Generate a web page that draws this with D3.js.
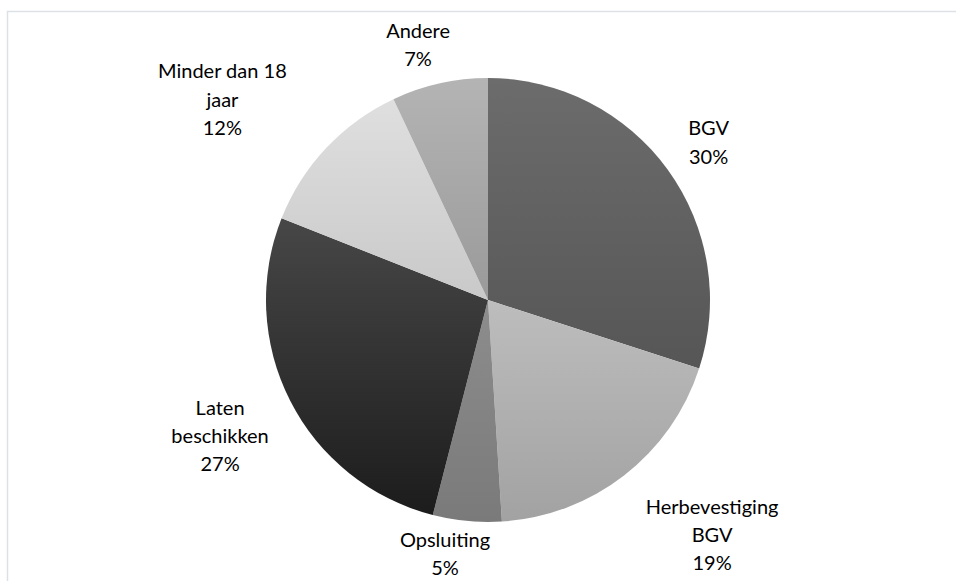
<!DOCTYPE html>
<html>
<head>
<meta charset="utf-8">
<script src="https://cdn.jsdelivr.net/npm/d3@7"></script>
<style>
    body { margin: 0; background: #fff; }
    svg text { font-family: Lato, "Open Sans", sans-serif; font-size: 20px; fill: #000; }
</style>
</head>
<body>
<div id="chart"></div>
<script>
var categories = ['BGV', 'Herbevestiging BGV', 'Opsluiting', 'Laten beschikken', 'Minder dan 18 jaar', 'Andere'];
var values = [30, 19, 5, 27, 12, 7];
// wrapped label lines as Excel shows them
var label_lines = [['BGV'], ['Herbevestiging', 'BGV'], ['Opsluiting'], ['Laten', 'beschikken'], ['Minder dan 18', 'jaar'], ['Andere']];
var colors_top = ['#6c6c6c', '#bdbdbd', '#8d8d8d', '#474747', '#dfdfdf', '#b4b4b4'];
var colors_bottom = ['#565656', '#a2a2a2', '#7a7a7a', '#1c1c1c', '#c9c9c9', '#9a9a9a'];

var width = 956, height = 581,
    cx = 488, cy = 300, radius = 222,
    line_h = 28.3, label_pad = 30;

var svg = d3.select('#chart').append('svg')
    .attr('width', width)
    .attr('height', height);

// chart area border (runs off right/bottom)
svg.append('rect')
    .attr('x', 7.5).attr('y', 11.5)
    .attr('width', width).attr('height', height)
    .attr('fill', 'none')
    .attr('stroke', '#dde1e6')
    .attr('stroke-width', 1.5);

var data = categories.map(function(c, i) {
    return {name: c, value: values[i], lines: label_lines[i], i: i};
});

var pie = d3.pie().sort(null).value(function(d) { return d.value; });
var arc = d3.arc().innerRadius(0).outerRadius(radius);
var total = d3.sum(values);

var defs = svg.append('defs');
data.forEach(function(d, i) {
    var g = defs.append('linearGradient')
        .attr('id', 'grad' + i)
        .attr('x1', 0).attr('y1', 0).attr('x2', 0).attr('y2', 1);
    g.append('stop').attr('offset', '0%').attr('stop-color', colors_top[i]);
    g.append('stop').attr('offset', '100%').attr('stop-color', colors_bottom[i]);
});

var g = svg.append('g').attr('transform', 'translate(' + cx + ',' + cy + ')');

g.selectAll('path.slice')
    .data(pie(data))
    .enter().append('path')
    .attr('class', 'slice')
    .attr('d', arc)
    .attr('fill', function(d) { return 'url(#grad' + d.data.i + ')'; });

// small per-label tweaks, Excel nudges boxes a bit
var nudge = {
    'BGV': [0, 8],
    'Herbevestiging BGV': [29, 3],
    'Opsluiting': [-15, -24],
    'Laten beschikken': [0, 3],
    'Minder dan 18 jaar': [-35, 2],
    'Andere': [-8, 19]
};

var labels = g.selectAll('g.label')
    .data(pie(data))
    .enter().append('g')
    .attr('class', 'label');

labels.each(function(d) {
    var el = d3.select(this);
    var lines = d.data.lines.concat([Math.round(d.data.value / total * 100) + '%']);
    var t = el.append('text').attr('text-anchor', 'middle');
    lines.forEach(function(l, k) {
        t.append('tspan').attr('x', 0).attr('y', k * line_h).text(l);
    });
    var box = t.node().getBBox();
    var w = box.width, h = lines.length * line_h;
    var a = (d.startAngle + d.endAngle) / 2;
    var dx = Math.sin(a), dy = -Math.cos(a);
    var px = dx * (radius + label_pad) + dx * w / 2,
        py = dy * (radius + label_pad) + dy * h / 2;
    var n = nudge[d.data.name];
    t.attr('transform', 'translate(' + (px + n[0]) + ',' + (py - h / 2 + line_h * 0.72 + n[1]) + ')');
});
</script>
</body>
</html>
